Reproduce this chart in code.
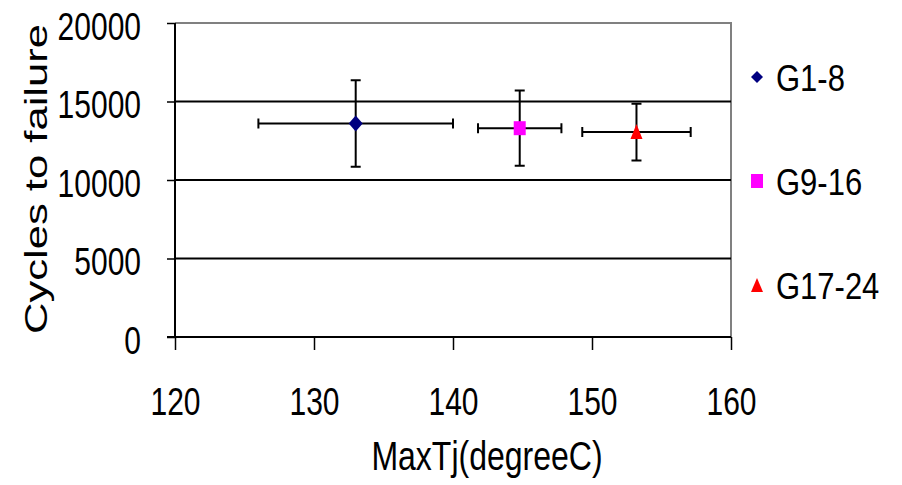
<!DOCTYPE html>
<html>
<head>
<meta charset="utf-8">
<script src="https://d3js.org/d3.v7.min.js"></script>
<style>
  body { margin: 0; background: #fff; }
  svg text { font-family: "Liberation Sans", Arial, sans-serif; fill: #000; }
</style>
</head>
<body>
<svg id="plot"></svg>
<script>
const { select, scaleLinear, axisLeft, axisBottom } = d3;

// data
const groups = ['G1-8', 'G9-16', 'G17-24'];
const maxTj = [133, 144.8, 153.2];
const maxTjErr = [7, 3, 3.9];
const cycles = [13600, 13300, 13050];
const cyclesErr = [2750, 2400, 1800];
const colors = ['#000080', '#ff00ff', '#ff0000'];
const xTicks = [120, 130, 140, 150, 160];
const yTicks = [0, 5000, 10000, 15000, 20000];

const width = 902, height = 485;
const plot = {left: 175, right: 731, top: 23, bottom: 337};
const stretch = 1.28; // text in the picture is drawn taller than it is wide

const svg = select('svg#plot')
    .attr('width', width)
    .attr('height', height);

const x = scaleLinear().domain([120, 160]).range([plot.left, plot.right]);
const y = scaleLinear().domain([0, 20000]).range([plot.bottom, plot.top]);

// plot area border (grey) top + right
svg.append('path')
    .attr('d', `M${plot.left},${plot.top}H${plot.right}V${plot.bottom}`)
    .attr('fill', 'none')
    .attr('stroke', '#808080')
    .attr('stroke-width', 2);

// gridlines
svg.append('g')
    .selectAll('line')
    .data(yTicks.filter(d => d > 0 && d < 20000))
    .join('line')
    .attr('x1', plot.left).attr('x2', plot.right)
    .attr('y1', d => y(d)).attr('y2', d => y(d))
    .attr('stroke', '#000')
    .attr('stroke-width', 2);

// y axis
const yAxis = svg.append('g')
    .attr('transform', `translate(${plot.left},0)`)
    .call(axisLeft(y).tickValues(yTicks).tickSize(8).tickPadding(26).tickFormat(d => d));
yAxis.select('.domain').attr('stroke', '#000').attr('stroke-width', 2).attr('d', `M0,${plot.top}V${plot.bottom}`);
yAxis.selectAll('.tick line').attr('stroke', '#000').attr('stroke-width', 1.5);
yAxis.selectAll('.tick text')
    .attr('font-size', 30)
    .attr('font-family', '"Liberation Sans", Arial, sans-serif')
    .attr('x', 0).attr('y', 0).attr('dy', 0)
    .attr('transform', `translate(-34,16) scale(1,${stretch})`);

// x axis
const xAxis = svg.append('g')
    .attr('transform', `translate(0,${plot.bottom})`)
    .call(axisBottom(x).tickValues(xTicks).tickSize(13).tickPadding(0).tickFormat(d => d));
xAxis.select('.domain').attr('stroke', '#000').attr('stroke-width', 2).attr('d', `M${plot.left - 8},0H${plot.right}`);
xAxis.selectAll('.tick line').attr('stroke', '#000').attr('stroke-width', 1.5);
xAxis.selectAll('.tick text')
    .attr('font-size', 30)
    .attr('font-family', '"Liberation Sans", Arial, sans-serif')
    .attr('x', 0).attr('y', 0).attr('dy', 0)
    .attr('transform', `translate(0,78) scale(1,${stretch})`);

// error bars
const bars = svg.append('g')
    .attr('stroke', '#000')
    .attr('stroke-width', 2);
const cap = 5;
groups.forEach((g, i) => {
    const cx = x(maxTj[i]), cy = y(cycles[i]);
    const x0 = x(maxTj[i] - maxTjErr[i]), x1 = x(maxTj[i] + maxTjErr[i]);
    const y0 = y(cycles[i] - cyclesErr[i]), y1 = y(cycles[i] + cyclesErr[i]);
    bars.append('path')
        .attr('fill', 'none')
        .attr('d', `M${x0},${cy}H${x1}M${x0},${cy - cap}V${cy + cap}M${x1},${cy - cap}V${cy + cap}` +
                   `M${cx},${y0}V${y1}M${cx - cap},${y0}H${cx + cap}M${cx - cap},${y1}H${cx + cap}`);
});

// markers
const shapes = [
    (sx, sy) => `M${sx},${sy - 8}L${sx + 7},${sy}L${sx},${sy + 8}L${sx - 7},${sy}Z`,
    (sx, sy) => `M${sx - 6},${sy - 7}H${sx + 6}V${sy + 7}H${sx - 6}Z`,
    (sx, sy) => `M${sx},${sy - 8}L${sx + 6},${sy + 7}H${sx - 6}Z`
];
svg.append('g')
    .selectAll('path')
    .data(groups)
    .join('path')
    .attr('d', (d, i) => shapes[i](x(maxTj[i]), y(cycles[i])))
    .attr('fill', (d, i) => colors[i]);

// axis titles
svg.append('text')
    .attr('transform', `translate(487,470) scale(1,${stretch})`)
    .attr('text-anchor', 'middle')
    .attr('font-size', 32)
    .text('MaxTj(degreeC)');

svg.append('text')
    .attr('transform', `translate(47,${(23 + 335) / 2}) rotate(-90)`)
    .attr('text-anchor', 'middle')
    .attr('font-size', 32)
    .attr('textLength', 310)
    .attr('lengthAdjust', 'spacingAndGlyphs')
    .text('Cycles to failure');

// legend
const legendY = [77, 181, 285];
const legendMarks = [
    (sx, sy) => `M${sx},${sy - 6}L${sx + 6},${sy}L${sx},${sy + 6}L${sx - 6},${sy}Z`,
    (sx, sy) => `M${sx - 6},${sy - 7}H${sx + 6}V${sy + 7}H${sx - 6}Z`,
    (sx, sy) => `M${sx},${sy - 7}L${sx + 6},${sy + 7}H${sx - 6}Z`
];
const legend = svg.append('g');
groups.forEach((g, i) => {
    legend.append('path')
        .attr('d', legendMarks[i](757, legendY[i]))
        .attr('fill', colors[i]);
    legend.append('text')
        .attr('transform', `translate(776,${legendY[i] + 14}) scale(1,1.22)`)
        .attr('font-size', 31)
        .text(g);
});
</script>
</body>
</html>
